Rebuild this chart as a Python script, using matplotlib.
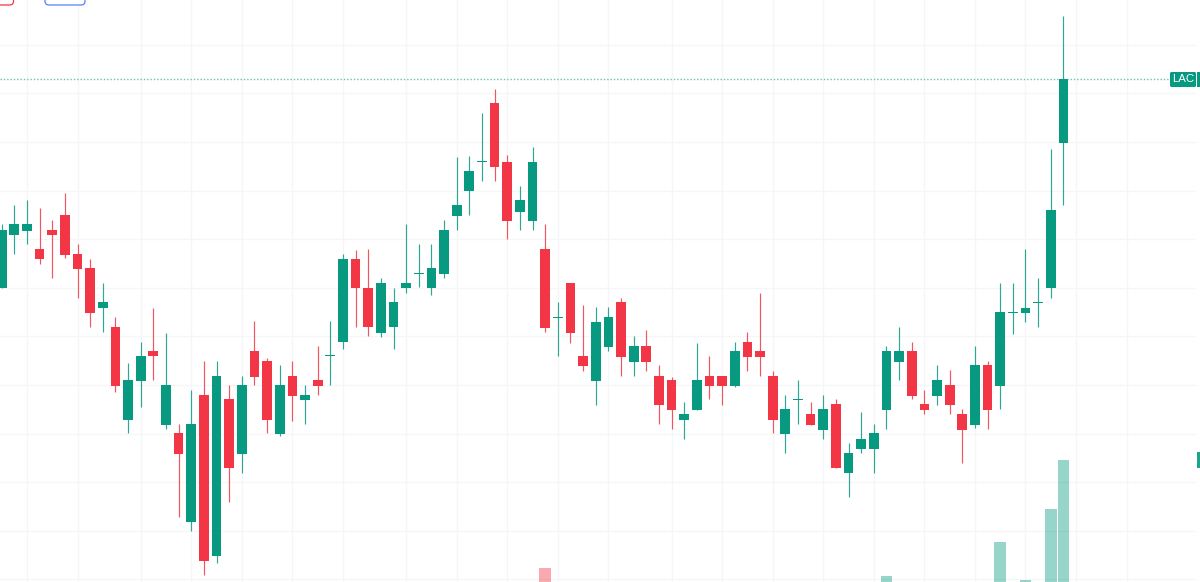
import matplotlib
matplotlib.use("Agg")
import matplotlib.pyplot as plt
from matplotlib.patches import FancyBboxPatch, Rectangle
from matplotlib.transforms import IdentityTransform

# Price scale is unlabelled in the reference, values are read in arbitrary chart units
body_top = [352,357.7,357.7,333,352,367,328,313.7,279.7,255,202,226.3,230.7,196.7,148.7,158,187,206.3,182.7,196.7,
            230.7,221,196.7,206.3,187,202,226.8,323.3,323.3,294.3,299,279.7,299,308.8,313.7,352,376.7,410.7,420.8,479,
            420.3,382,420.3,333,265.2,299,226.3,260.3,264.7,279.7,236,236,206.3,201.7,168,201.7,206.3,206.3,230.7,240.3,
            230.7,206.3,172.7,182.8,168,173,177.7,128.7,143.3,148.7,230.7,230.7,230.7,177.7,202,196.7,168,217,217,270,
            270.2,274.3,279.8,371.7,503]
body_bot = [293.7,347,351.3,322.7,347,327,313,269.3,273.7,196,162,201,225.7,157.3,127.7,60.3,21,26.3,113.7,127.7,
            205.3,162,148,186,182,196,225.8,239.7,293.7,254.7,249,254.7,293.7,307.8,293.7,308,366.3,391,419.8,415,
            361,370.3,361,254.3,264.2,249,216,201,235,225.3,220.3,220.3,176.7,172.3,162,172,196,196,196,225.3,
            225.3,162,148,181.8,157.3,152,113.7,108.7,133,133,172.3,220.3,186,172,186,176.7,152,157.3,172,195.7,
            269.2,269.3,278.8,293.7,438.7]
highs = [357.7,377,382,374,362,388.7,338,323.3,299,265,218.7,240.3,274.3,249,158,192.3,221,221,196.7,206.3,
         260.7,223.7,217,221,196.7,236,260.7,328,332,333,304,294.3,357.7,338,338,362,424.7,425.7,469.3,493,
         427.3,396,435.3,357.7,279.7,299,277,274.7,274.7,284,245.7,252,217,204.7,180,238.7,226.3,206.3,240.3,250,
         289,211.3,187,201.7,180,187,182.7,139,170.3,158,236,255,240.3,192.3,217,211.7,173,236,221,299,
         299,333,304,432.7,566.3]
lows = [293.7,328,338,318,304.3,323.7,284,255.3,250,190,148.7,175,202,153.3,65.3,51.3,7,19.3,80.3,109,
        196.7,148.7,146.3,161,158,187,196.7,233.3,255.3,246,245.3,233.3,289.3,294.7,287,304.3,352,367,401,401,
        342.7,352,352,250,226.3,238.7,211.3,177.3,230.7,206.3,206.3,211.3,158,153,143.3,172,182.7,177.3,195.3,211.3,
        206.3,148.7,129.3,158,157.3,143.3,113.7,85,128.7,109,153.3,202,182.7,168,177.3,168,119,154,153,173,
        248.3,260.3,255.3,284.3,377]
is_up = [1,1,1,0,0,0,0,0,1,0,1,1,0,1,0,1,0,1,0,1,
         0,0,1,0,1,0,1,1,0,0,1,1,1,1,1,1,1,1,1,0,
         0,1,1,0,1,0,0,1,1,0,1,0,0,0,1,1,0,0,1,0,
         0,0,1,1,0,1,0,1,1,1,1,1,0,0,1,0,0,1,0,1,
         1,1,1,1,1]
volume_index = [43, 70, 79, 81, 83, 84]
volume_value = [14, 6, 40, 2, 73, 122]
volume_up = [0, 1, 1, 1, 1, 1]
grid_index = [2,6,11,15,19,23,27,32,36,40,44,48,53,57,61,65,69,73,77,81,85,89]
grid_price = [2.7 + 48.6 * k for k in range(12)]
last_close_label = "LAC"

GREEN = "#089981"
RED = "#F23645"
GRID = "#F5F6F8"
W, H = 1200, 582

fig = plt.figure(figsize=(12, 5.82), dpi=100, facecolor="white")
ax = fig.add_axes([0, 0, 1196 / W, 1])
ax.set_xlim(-0.132, 94.49)
ax.set_ylim(0, H)
for s in ax.spines.values():
    s.set_visible(False)
ax.set_xticks(grid_index)
ax.set_yticks(grid_price)
ax.tick_params(length=0, labelbottom=False, labelleft=False)
ax.grid(True, color=GRID, linewidth=1.0)
ax.set_axisbelow(True)

vol = ax.twinx()
vol.set_position(ax.get_position())
vol.set_ylim(0, H)
vol.axis("off")
vol.patch.set_visible(False)
vol.bar(volume_index, volume_value, width=0.92,
        color=[GREEN if u else RED for u in volume_up], alpha=0.42, linewidth=0, zorder=1)

price = ax.twinx()
price.set_position(ax.get_position())
price.set_ylim(0, H)
price.axis("off")
price.patch.set_visible(False)
xs = list(range(len(is_up)))
colors = [GREEN if u else RED for u in is_up]
price.vlines(xs, lows, highs, colors=colors, linewidth=0.85, alpha=0.85, zorder=2)
price.bar(xs, [t - b for t, b in zip(body_top, body_bot)], bottom=body_bot, width=0.77,
          color=colors, linewidth=0, zorder=3)

# last-price line and its label
last = body_top[-1]
price.plot([-0.132, 92.3], [last, last], color=GREEN, linewidth=1, linestyle=(0, (1, 1.4)), alpha=0.6, zorder=1.5)
tr = IdentityTransform()
fig.add_artist(FancyBboxPatch((1170, H - 87), 26, 15, boxstyle="round,pad=0,rounding_size=1.5",
                              facecolor=GREEN, edgecolor="none", transform=tr))
fig.add_artist(Rectangle((1197, H - 87), 3, 15, facecolor=GREEN, edgecolor="none", transform=tr))
fig.add_artist(Rectangle((1197, H - 468), 3, 16, facecolor=GREEN, edgecolor="none", alpha=0.9, transform=tr))
fig.text(1183 / W, 1 - 79.5 / H, last_close_label, color="white", fontsize=8.2,
         family="Liberation Sans", ha="center", va="center")

# cropped badges at the top edge
fig.add_artist(FancyBboxPatch((-8, H - 5), 21.5, 12, boxstyle="round,pad=0,rounding_size=4",
                              facecolor="white", edgecolor=RED, linewidth=0.9, transform=tr))
fig.add_artist(FancyBboxPatch((45, H - 5), 40, 12, boxstyle="round,pad=0,rounding_size=4",
                              facecolor="white", edgecolor="#2962FF", linewidth=0.9, alpha=0.8, transform=tr))

fig.savefig("out.png", dpi=100, facecolor="white")
